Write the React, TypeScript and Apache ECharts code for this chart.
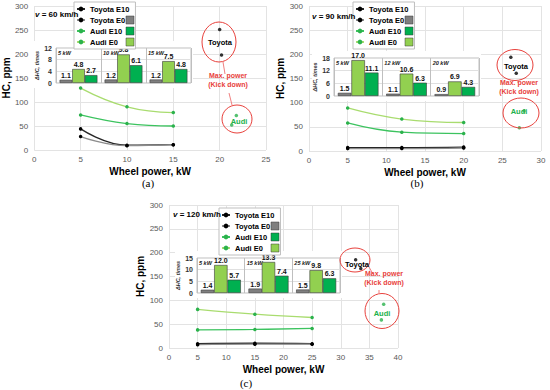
import React, { useEffect, useRef } from "react";
import * as echarts from "echarts";

// ---------- data ----------
const seriesNames = ["Toyota E10", "Toyota E0", "Audi E10", "Audi E0"];

// Panel (a) v = 60 km/h
const powerA = [5, 10, 15];
const toyotaE10A = [44, 10, 11];
const toyotaE0A = [28, 9, 11];
const audiE10A = [73, 55, 50];
const audiE0A = [129, 90, 78];
const toyotaMaxA = [[20.0, 251], [20.2, 198]];
const audiMaxA = [[21.8, 72], [21.3, 52]];
const ratioCatsA = ["5 kW", "10 kW", "15 kW"];
const ratioToyotaA = [1.1, 1.2, 1.2];
const ratioAudiE0A = [4.8, 9.8, 7.5];
const ratioAudiE10A = [2.7, 6.1, 4.8];

// Panel (b) v = 90 km/h
const powerB = [5, 12, 20];
const toyotaE10B = [7, 7, 8];
const toyotaE0B = [5, 5, 6];
const audiE10B = [58, 39, 36];
const audiE0B = [89, 66, 59];
const toyotaMaxB = [[26.1, 194], [26.8, 161]];
const audiMaxB = [[27.8, 83], [27.2, 48]];
const ratioCatsB = ["5 kW", "12 kW", "20 kW"];
const ratioToyotaB = [1.5, 1.1, 0.9];
const ratioAudiE0B = [17.0, 10.6, 6.9];
const ratioAudiE10B = [11.1, 6.3, 4.3];

// Panel (c) v = 120 km/h
const powerC = [5, 15, 25];
const toyotaE10C = [9, 10, 9];
const toyotaE0C = [7, 8, 8];
const audiE10C = [38, 39, 41];
const audiE0C = [81, 71, 64];
const toyotaMaxC = [[32.6, 185], [33.5, 167]];
const audiMaxC = [[37.5, 92], [37.1, 59]];
const ratioCatsC = ["5 kW", "15 kW", "25 kW"];
const ratioToyotaC = [1.4, 1.9, 1.5];
const ratioAudiE0C = [12.0, 13.3, 9.8];
const ratioAudiE10C = [5.7, 7.4, 6.3];

const hcTicks = { min: 0, max: 300, interval: 50 };
const xMaxes = [25, 30, 40];
const ratioMax = [12, 18, 15];
const ratioInterval = [4, 6, 5];
const speeds = ["60", "90", "120"];
const panelTags = ["(a)", "(b)", "(c)"];

// ---------- layout / style ----------
const FONT = "'Liberation Sans', Arial, sans-serif";
const RED = "#e8413c";
const COLORS = {
  toyotaE10Line: "#262626",
  toyotaE0Line: "#8c8c8c",
  audiE10Line: "#3cc35f",
  audiE0Line: "#a9dc6f",
  audiDot: "#2bb24c",
  barGray: "#7f7f7f",
  barLight: "#92d050",
  barDark: "#00b050",
};

const layouts = [
  {
    main: { left: 31, top: 6, width: 235, height: 144 },
    inset: { left: 56, top: 48, width: 135, height: 35 },
    legend: [74, 2],
    speed: [35, 14],
    tag: [148, 183],
    toyotaEll: [219, 42, 17, 20],
    toyotaTxt: [220, 42],
    audiEll: [237, 119, 15, 14],
    audiTxt: [239, 121],
    maxTxt: [228, 80],
    links: [[223, 62, 225, 74], [229, 93, 232, 105]],
  },
  {
    main: { left: 309, top: 6, width: 232, height: 145 },
    inset: { left: 334, top: 58, width: 145, height: 38 },
    legend: [353, 2],
    speed: [312, 16],
    tag: [417, 183],
    toyotaEll: [515, 65, 18, 15.5],
    toyotaTxt: [516, 66],
    audiEll: [521, 113, 18, 15],
    audiTxt: [519, 111],
    maxTxt: [519, 87],
    links: [[518, 80, 518, 83], [519, 98, 519, 99]],
  },
  {
    main: { left: 169, top: 205, width: 229, height: 143 },
    inset: { left: 197, top: 258, width: 143, height: 35 },
    legend: [219, 208],
    speed: [173, 214],
    tag: [246, 383],
    toyotaEll: [355, 260, 15, 12],
    toyotaTxt: [357, 264],
    audiEll: [382, 311, 17, 17.5],
    audiTxt: [382, 313],
    maxTxt: [384, 278],
    links: [[369, 267, 373, 274], [379, 290, 379, 294]],
  },
];

const panelData = [
  { power: powerA, tE10: toyotaE10A, tE0: toyotaE0A, aE10: audiE10A, aE0: audiE0A, tMax: toyotaMaxA, aMax: audiMaxA, cats: ratioCatsA, rT: ratioToyotaA, rE0: ratioAudiE0A, rE10: ratioAudiE10A },
  { power: powerB, tE10: toyotaE10B, tE0: toyotaE0B, aE10: audiE10B, aE0: audiE0B, tMax: toyotaMaxB, aMax: audiMaxB, cats: ratioCatsB, rT: ratioToyotaB, rE0: ratioAudiE0B, rE10: ratioAudiE10B },
  { power: powerC, tE10: toyotaE10C, tE0: toyotaE0C, aE10: audiE10C, aE0: audiE0C, tMax: toyotaMaxC, aMax: audiMaxC, cats: ratioCatsC, rT: ratioToyotaC, rE0: ratioAudiE0C, rE10: ratioAudiE10C },
];

function pairs(xs: number[], ys: number[]) {
  return xs.map((x, i) => [x, ys[i]]);
}

function buildOption() {
  const grid: any[] = [];
  const xAxis: any[] = [];
  const yAxis: any[] = [];
  const series: any[] = [];
  const legend: any[] = [];
  const graphic: any[] = [];

  layouts.forEach((L, p) => {
    const d = panelData[p];
    const gMain = grid.length;
    grid.push({ ...L.main, z: 0, containLabel: false });
    const gIn = grid.length;
    grid.push({ ...L.inset, z: 4, show: true, backgroundColor: "#fff", borderColor: "#bfbfbf", borderWidth: 1 });

    // main axes
    xAxis.push({
      gridIndex: gMain, type: "value", min: 0, max: xMaxes[p], interval: 5, z: 0,
      name: "Wheel power, kW", nameLocation: "middle", nameGap: 16,
      nameTextStyle: { fontFamily: FONT, fontSize: 10, fontWeight: "bold", color: "#000" },
      axisLine: { show: false }, axisTick: { show: false },
      axisLabel: { fontFamily: FONT, fontSize: 8, color: "#595959", margin: 5 },
      splitLine: { show: true, lineStyle: { color: "#e3e3e3", width: 1 } },
    });
    yAxis.push({
      gridIndex: gMain, type: "value", ...hcTicks, z: 0,
      name: "HC, ppm", nameLocation: "middle", nameGap: 22,
      nameTextStyle: { fontFamily: FONT, fontSize: 10, fontWeight: "bold", color: "#000" },
      axisLine: { show: false }, axisTick: { show: false },
      axisLabel: { fontFamily: FONT, fontSize: 8, color: "#595959", margin: 6 },
      splitLine: { show: true, lineStyle: { color: "#e3e3e3", width: 1 } },
    });
    const xMainIdx = xAxis.length - 1;
    const yMainIdx = yAxis.length - 1;

    // inset axes
    const groupW = L.inset.width / 3;
    xAxis.push({
      gridIndex: gIn, type: "category", data: d.cats, position: "top", z: 5,
      axisLine: { show: false }, axisTick: { show: false },
      axisLabel: {
        inside: true, margin: 2, interval: 0,
        formatter: (v: string) => "{a|" + v + "}",
        rich: { a: { width: groupW - 4, align: "left", fontFamily: FONT, fontSize: 5.5, fontStyle: "italic", fontWeight: "bold", color: "#222" } },
      },
      splitLine: { show: true, interval: 0, lineStyle: { color: "#bfbfbf", width: 1 } },
    });
    yAxis.push({
      gridIndex: gIn, type: "value", min: 0, max: ratioMax[p], interval: ratioInterval[p], z: 5,
      name: "ΔHC, times", nameLocation: "middle", nameGap: 11,
      nameTextStyle: { fontFamily: FONT, fontSize: 5.5, fontStyle: "italic", fontWeight: "bold", color: "#333" },
      axisLine: { show: false }, axisTick: { show: false },
      axisLabel: { fontFamily: FONT, fontSize: 7, fontWeight: "bold", color: "#333", margin: 4 },
      splitLine: { show: true, lineStyle: { color: "#e0e0e0", width: 1 } },
    });
    const xInIdx = xAxis.length - 1;
    const yInIdx = yAxis.length - 1;

    const lineBase = (name: string, data: number[], lineColor: string, dotColor: string) => ({
      name, type: "line", xAxisIndex: xMainIdx, yAxisIndex: yMainIdx,
      data: pairs(d.power, data), smooth: 0.45, symbol: "circle", symbolSize: 3.5,
      lineStyle: { color: lineColor, width: 1.3 }, itemStyle: { color: dotColor }, z: 2,
    });
    series.push(lineBase("Toyota E10", d.tE10, COLORS.toyotaE10Line, "#000"));
    series.push(lineBase("Toyota E0", d.tE0, COLORS.toyotaE0Line, "#000"));
    series.push(lineBase("Audi E10", d.aE10, COLORS.audiE10Line, COLORS.audiDot));
    series.push(lineBase("Audi E0", d.aE0, COLORS.audiE0Line, COLORS.audiDot));
    series.push({
      name: "Toyota max power", type: "scatter", xAxisIndex: xMainIdx, yAxisIndex: yMainIdx,
      data: d.tMax, symbolSize: 3.5, itemStyle: { color: "#000" }, z: 3,
    });
    series.push({
      name: "Audi max power", type: "scatter", xAxisIndex: xMainIdx, yAxisIndex: yMainIdx,
      data: d.aMax, symbolSize: 3.5, itemStyle: { color: COLORS.audiDot }, z: 3,
    });

    const barLabel = {
      show: true, position: "top", distance: 1,
      fontFamily: FONT, fontSize: 7, fontWeight: "bold", color: "#111",
      formatter: (q: any) => Number(q.value).toFixed(1),
    };
    const barBase = (name: string, data: number[], color: string) => ({
      name, type: "bar", xAxisIndex: xInIdx, yAxisIndex: yInIdx, data,
      barGap: "0%", barCategoryGap: "16%", z: 6,
      itemStyle: { color, borderColor: "#3a3a3a", borderWidth: 0.6 },
      label: barLabel,
    });
    series.push(barBase("ΔHC Toyota", d.rT, COLORS.barGray));
    series.push(barBase("ΔHC Audi E0", d.rE0, COLORS.barLight));
    series.push(barBase("ΔHC Audi E10", d.rE10, COLORS.barDark));

    // legend
    const [lx, ly] = L.legend;
    legend.push({
      orient: "vertical", left: lx, top: ly, data: seriesNames,
      itemWidth: 8, itemHeight: 6, itemGap: 3, padding: [3, 6, 3, 2],
      borderColor: "#bfbfbf", borderWidth: 1, backgroundColor: "#fff",
      selectedMode: false, z: 10,
      textStyle: { fontFamily: FONT, fontSize: 7.5, fontWeight: "bold", color: "#000", lineHeight: 8 },
    });
    const sqColors = [COLORS.barGray, COLORS.barDark, COLORS.barLight];
    sqColors.forEach((c, i) => {
      graphic.push({
        type: "rect", z: 20,
        shape: { x: lx + 52, y: ly + 3 + (i + 1) * 11, width: 8, height: 8 },
        style: { fill: c, stroke: "#3a3a3a", lineWidth: 0.5 },
      });
    });

    // white backdrop behind inset (covers main gridlines)
    graphic.push({
      type: "rect", z: 1,
      shape: { x: L.inset.left - 22, y: L.inset.top - 7, width: L.inset.width + 24, height: L.inset.height + 12 },
      style: { fill: "#fff" },
    });

    // speed text
    graphic.push({
      type: "text", z: 20, x: L.speed[0], y: L.speed[1],
      style: {
        text: "{i|v} = " + speeds[p] + " km/h",
        fontFamily: FONT, fontSize: 8, fontWeight: "bold", fill: "#000", verticalAlign: "middle",
        rich: { i: { fontStyle: "italic", fontFamily: FONT, fontSize: 8, fontWeight: "bold" } },
      },
    });
    // panel tag
    graphic.push({
      type: "text", z: 20, x: L.tag[0], y: L.tag[1],
      style: { text: panelTags[p], fontFamily: "'Liberation Serif', serif", fontSize: 11, fill: "#000", align: "center", verticalAlign: "middle" },
    });
    // annotations
    const [tx, ty, trx, tr_y] = L.toyotaEll;
    graphic.push({ type: "ellipse", z: 20, shape: { cx: tx, cy: ty, rx: trx, ry: tr_y }, style: { fill: "none", stroke: RED, lineWidth: 1 } });
    const [ax, ay, arx, ary] = L.audiEll;
    graphic.push({ type: "ellipse", z: 20, shape: { cx: ax, cy: ay, rx: arx, ry: ary }, style: { fill: "none", stroke: RED, lineWidth: 1 } });
    graphic.push({
      type: "text", z: 21, x: L.toyotaTxt[0], y: L.toyotaTxt[1],
      style: { text: "Toyota", fontFamily: FONT, fontSize: 7.5, fontWeight: "bold", fill: "#000", align: "center", verticalAlign: "middle" },
    });
    graphic.push({
      type: "text", z: 21, x: L.audiTxt[0], y: L.audiTxt[1],
      style: { text: "Audi", fontFamily: FONT, fontSize: 7.5, fontWeight: "bold", fill: "#22b14c", align: "center", verticalAlign: "middle" },
    });
    graphic.push({
      type: "text", z: 21, x: L.maxTxt[0], y: L.maxTxt[1],
      style: { text: "Max. power\n(Kick down)", fontFamily: FONT, fontSize: 7, lineHeight: 8.5, fontWeight: "bold", fill: RED, align: "center", verticalAlign: "middle" },
    });
    L.links.forEach(([x1, y1, x2, y2]) => {
      graphic.push({ type: "line", z: 20, shape: { x1, y1, x2, y2 }, style: { stroke: "#f08080", lineWidth: 1 } });
    });
  });

  return { animation: false, backgroundColor: "#fff", grid, xAxis, yAxis, series, legend, graphic };
}

export default function App() {
  const ref = useRef<HTMLDivElement>(null);
  useEffect(() => {
    if (!ref.current) return;
    const chart = echarts.init(ref.current, undefined, { renderer: "svg" });
    chart.setOption(buildOption() as any);
    return () => chart.dispose();
  }, []);
  return (
    <div
      ref={ref}
      style={{ position: "absolute", left: 0, top: 0, width: 550, height: 390, background: "#fff" }}
    />
  );
}
